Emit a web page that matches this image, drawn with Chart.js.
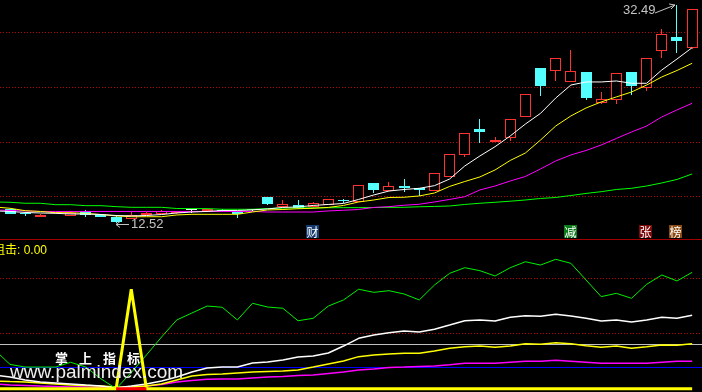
<!DOCTYPE html>
<html>
<head>
<meta charset="utf-8">
<script src="https://cdn.jsdelivr.net/npm/chart.js@4.4.1/dist/chart.umd.min.js"></script>
<style>
  body { margin: 0; background: #000; }
  #wrap { position: relative; width: 702px; height: 392px; overflow: hidden; background: #000; }
  canvas { position: absolute; left: 0; }
  .lbl { position: absolute; white-space: nowrap; font-family: "Liberation Sans", Arial, sans-serif; }
  .tag { position: absolute; width: 13px; height: 13px; line-height: 13px; font-size: 12px; text-align: center;
         color: #fff; font-family: "Noto Sans CJK SC", sans-serif; }
</style>
</head>
<body>
<div id="wrap">
  <canvas id="main" width="702" height="239" style="top:0"></canvas>
  <div style="position:absolute;left:0;top:239px;width:702px;height:1px;background:#a00000"></div>
  <canvas id="sub" width="702" height="152" style="top:240px"></canvas>

  <div class="lbl" style="left:623px;top:2px;font-size:13px;color:#c4c4c4">32.49</div>
  <div class="lbl" style="left:131px;top:216px;font-size:13px;color:#c4c4c4">12.52</div>
  <svg style="position:absolute;left:0;top:0" width="702" height="240">
    <g stroke="#c4c4c4" fill="none" stroke-width="1">
      <path d="M655 13 L675 5 M669 4 L675 5 L671 9"/>
      <path d="M129 224.5 L116 224.5 M120 221.5 L116 224.5 L120 227.5"/>
    </g>
  </svg>
  <div class="tag" style="left:306px;top:225px;background:#163a6e">财</div>
  <div class="tag" style="left:564px;top:225px;background:#0c7a18">减</div>
  <div class="tag" style="left:639px;top:225px;background:#7a0a0a">张</div>
  <div class="tag" style="left:669px;top:225px;background:#8a4a12">榜</div>

  <div class="lbl" style="left:-7px;top:240px;font-size:12px;color:#ffff00"><span style="font-family:'Noto Sans CJK SC'">狙击</span>: 0.00</div>
  <div class="lbl" style="left:55px;top:348px;font-size:13px;font-weight:bold;letter-spacing:11px;color:#fff;font-family:'Noto Sans CJK SC'">掌上指标</div>
  <div class="lbl" style="left:10px;top:361px;font-size:19px;color:#eeeeee">www.palmindex.com</div>
</div>

<script>
// candles, left to right
const opens  = [13.81,13.41,13.13,13.43,13.24,13.65,13.29,13.13,12.95,13.29,13.38,13.44,13.70,13.68,13.77,13.59,13.72,14.94,14.05,14.20,13.99,14.20,14.66,14.51,16.24,15.51,15.94,15.79,15.51,16.79,18.78,21.18,19.97,20.31,22.28,26.74,26.49,25.49,26.37,23.51,23.81,26.37,24.88,28.32,29.57,28.54];
const closes = [13.38,13.35,13.32,13.52,13.43,13.26,13.13,12.62,13.29,13.44,13.65,13.65,13.70,13.84,13.63,13.38,13.72,14.30,14.30,13.90,14.36,14.75,14.57,16.03,15.58,15.94,15.79,15.58,17.13,18.87,20.76,20.91,20.15,22.07,24.33,25.12,27.63,26.46,24.02,23.90,26.25,25.12,27.63,29.82,29.24,32.11];
const highs  = [13.85,13.56,13.34,13.55,13.68,13.74,13.30,13.15,13.56,13.56,13.70,13.68,13.84,13.86,13.80,13.65,13.88,14.96,14.66,14.66,14.48,14.77,14.78,16.05,16.26,16.34,16.58,15.80,17.15,18.89,20.78,22.07,20.45,22.09,24.35,26.76,27.65,28.39,26.39,24.54,26.27,26.39,27.65,30.33,32.49,32.13];
const lows   = [13.35,13.20,13.11,13.40,13.15,13.13,13.10,12.52,12.93,13.27,13.35,13.42,13.50,13.66,13.60,13.04,13.61,14.23,14.03,13.88,13.97,14.18,14.36,14.49,15.27,15.49,15.37,15.03,15.49,16.77,18.62,19.90,19.95,20.06,22.26,24.18,25.58,25.47,23.81,23.44,23.47,24.27,24.66,27.68,28.08,28.52];

// moving averages, first value is the bar before the window
const ma5  = [13.66,13.61,13.52,13.47,13.44,13.38,13.38,13.33,13.24,13.20,13.24,13.33,13.47,13.56,13.61,13.70,13.70,13.75,13.84,13.98,14.02,14.16,14.25,14.34,14.71,15.12,15.48,15.62,15.73,15.97,16.58,17.77,18.69,19.54,20.52,21.61,22.59,23.99,25.18,25.46,25.46,25.55,25.34,25.34,26.56,27.56,28.60];
const ma10 = [14.02,13.90,13.68,13.61,13.50,13.50,13.43,13.33,13.20,13.13,13.13,13.13,13.29,13.35,13.35,13.35,13.35,13.56,13.75,13.79,13.86,13.90,13.98,14.16,14.48,14.66,14.89,14.91,15.03,15.30,15.90,16.35,16.77,17.41,18.28,18.96,20.15,21.43,22.35,23.08,23.63,24.09,24.54,25.18,25.92,26.51,27.17];
const ma30 = [13.75,13.70,13.66,13.61,13.61,13.61,13.61,13.61,13.61,13.61,13.61,13.61,13.61,13.61,13.61,13.61,13.61,13.61,13.56,13.56,13.56,13.56,13.66,13.72,13.79,13.98,14.05,14.18,14.27,14.48,14.71,14.96,15.58,15.94,16.40,16.81,17.50,18.23,18.78,19.19,19.69,20.29,20.88,21.43,22.26,22.90,23.51];
const ma60 = [14.48,14.45,14.36,14.36,14.23,14.23,14.14,14.14,14.05,13.99,13.99,13.99,13.88,13.87,13.87,13.81,13.81,13.81,13.88,13.92,13.93,13.94,13.95,13.96,13.96,13.97,13.98,13.99,14.04,14.07,14.11,14.25,14.36,14.45,14.55,14.66,14.80,14.89,15.07,15.26,15.42,15.62,15.73,15.94,16.22,16.54,17.04];
const priceGrid = [15, 20, 25, 30];

// lower indicator, same bars (first value is the bar before)
const subGreen   = [35,22,19.6,19.6,19.6,23.9,19.6,9,0,14.7,30.5,46.8,62.2,68.5,74.8,73.7,62.2,77.3,73.9,72.8,61.5,63.7,74.8,80.3,90,87.2,88.7,85.7,80.3,93.8,104.4,109.5,106.8,102,109.5,114.9,111.9,117.1,113.5,98.4,83.3,86.3,81.8,94.5,102.9,97.5,105.3];
const subWhite   = [12.4,10.6,7.9,6,5.2,4.3,3.3,2.4,0.6,2.4,4.3,7,10.6,15.1,18.7,19.6,19.6,23.3,24.2,26,28.7,29.6,32.3,38.6,45.6,48.6,50.7,52.2,51.3,53.8,57.6,61.5,62.2,61.3,64.6,66.1,65.5,67.3,65.8,63.7,61.3,62.2,60.4,62.2,64.6,63.7,66.4];
const subYellow  = [7,6.5,6.1,5.2,4.3,3.3,2.9,2.4,1.5,1.5,2.4,4.3,7.9,11.5,12.9,13.3,14.2,15.1,15.6,16,16.9,19.6,22.4,25.1,29,30.5,31.4,32,32,34.1,36.6,38,38.6,37.5,38.6,40.7,40.2,41.6,40.7,38.9,37.5,38.6,36.6,38,39.5,39.3,40.7];
const subMagenta = [4.3,3.3,2.9,2.4,2,1.5,1.5,1.1,0.6,1.1,2.4,3.8,6.1,7.4,8.5,8.8,8.8,9.7,10.6,11,11.9,12.4,13.8,15.1,16.9,17.8,19.2,19.6,20.1,20.5,21.7,23,23,23,23.9,24.8,24.8,25.7,24.8,23.9,23,23,23,23,23.9,24.8,24.8];
const subSignal  = [0,0,0,0,0,0,0,0,0,90,0,0,0,0,0,0,0,0,0,0,0,0,0,0,0,0,0,0,0,0,0,0,0,0,0,0,0,0,0,0,0,0,0,0,0,0,0];
const subRed     = [null,null,null,null,null,null,null,null,0,0,0,null,null,null,null,null,null,null,null,null,null,null,null,null,null,null,null,null,null,null,null,null,null,null,null,null,null,null,null,null,null,null,null,null,null,null,null];
const subDotted = [50, 100];
const subGray = 40;
const subBlue = 20;

const RED = "#ff3232";
const CYAN = "#54ffff";
const xMin = -0.66, xMax = 45.65;

const refLines = {
    id: "refLines",
    beforeDatasetsDraw(chart, args, opts) {
        const ctx = chart.ctx;
        const area = chart.chartArea;
        const y = chart.scales.y;
        (opts.lines || []).forEach(l => {
            const py = Math.round(y.getPixelForValue(l.value)) + 0.5;
            ctx.save();
            ctx.strokeStyle = l.color;
            ctx.lineWidth = 1;
            ctx.setLineDash(l.dash || []);
            ctx.beginPath();
            ctx.moveTo(area.left, py);
            ctx.lineTo(area.right, py);
            ctx.stroke();
            ctx.restore();
        });
    }
};

// keep candle edges on whole pixels so the thin borders stay crisp
const snapBars = {
    id: "snapBars",
    afterDatasetsUpdate(chart) {
        chart.data.datasets.forEach((ds, di) => {
            const meta = chart.getDatasetMeta(di);
            if (meta.type !== "bar") return;
            meta.data.forEach(el => {
                const w = Math.round(el.width);
                el.width = w;
                el.x = w % 2 ? Math.floor(el.x) + 0.5 : Math.round(el.x);
                let y = Math.round(el.y), b = Math.round(el.base);
                if (y === b) y = b - 1;
                el.y = y;
                el.base = b;
                el.inflateAmount = 0;
            });
        });
    }
};

const candleColor = (i, upColor) => {
    if (closes[i] > opens[i]) return upColor;
    if (closes[i] < opens[i]) return CYAN;
    return "#ffffff";
};

const fromPrev = (arr) => arr.map((v, k) => ({ x: k - 1, y: v }));

const line = (arr, color, width, order) => ({
    type: "line",
    data: fromPrev(arr),
    borderColor: color,
    borderWidth: width,
    borderJoinStyle: "bevel",
    pointRadius: 0,
    tension: 0,
    spanGaps: false,
    order: order,
});

const baseOptions = (yMin, yMax, lines) => ({
    responsive: false,
    devicePixelRatio: 1,
    animation: false,
    events: [],
    layout: { padding: 0 },
    scales: {
        x: { type: "linear", min: xMin, max: xMax, display: false, offset: false },
        y: { type: "linear", min: yMin, max: yMax, display: false },
    },
    plugins: {
        legend: { display: false },
        tooltip: { enabled: false },
        refLines: { lines: lines },
    },
});

new Chart(document.getElementById("main"), {
    type: "line",
    plugins: [refLines, snapBars],
    data: {
        datasets: [
            line(ma5, "#ffffff", 1, 1),
            line(ma10, "#ffff00", 1, 2),
            line(ma30, "#ff00ff", 1, 3),
            line(ma60, "#00ff00", 1, 4),
            {
                type: "bar",
                data: opens.map((o, i) => ({ x: i, y: [o, closes[i]] })),
                barThickness: 11,
                grouped: false,
                minBarLength: 1,
                inflateAmount: 0,
                borderWidth: 1,
                borderSkipped: false,
                backgroundColor: c => closes[c.dataIndex] > opens[c.dataIndex] ? "#000000" : candleColor(c.dataIndex, RED),
                borderColor: c => candleColor(c.dataIndex, RED),
                order: 5,
            },
            {
                type: "bar",
                data: lows.map((l, i) => ({ x: i, y: [l, highs[i]] })),
                barThickness: 1,
                grouped: false,
                inflateAmount: 0,
                borderWidth: 0,
                backgroundColor: c => candleColor(c.dataIndex, RED),
                order: 6,
            },
        ],
    },
    options: baseOptions(11.09, 32.96,
        priceGrid.map(v => ({ value: v, color: "#c00000", dash: [1, 2] }))),
});

new Chart(document.getElementById("sub"), {
    type: "line",
    plugins: [refLines],
    data: {
        datasets: [
            line(subRed, "#ff0000", 3, 1),
            line(subSignal, "#ffff00", 3, 2),
            line(subGreen, "#00f000", 1, 3),
            line(subWhite, "#ffffff", 1.5, 4),
            line(subYellow, "#ffff00", 1.5, 5),
            line(subMagenta, "#ff00ff", 1.5, 6),
        ],
    },
    options: baseOptions(-2.99, 134.57, [
        ...subDotted.map(v => ({ value: v, color: "#c00000", dash: [1, 2] })),
        { value: subGray, color: "#c0c0c0" },
        { value: subBlue, color: "#0000ff" },
    ]),
});
</script>
</body>
</html>
